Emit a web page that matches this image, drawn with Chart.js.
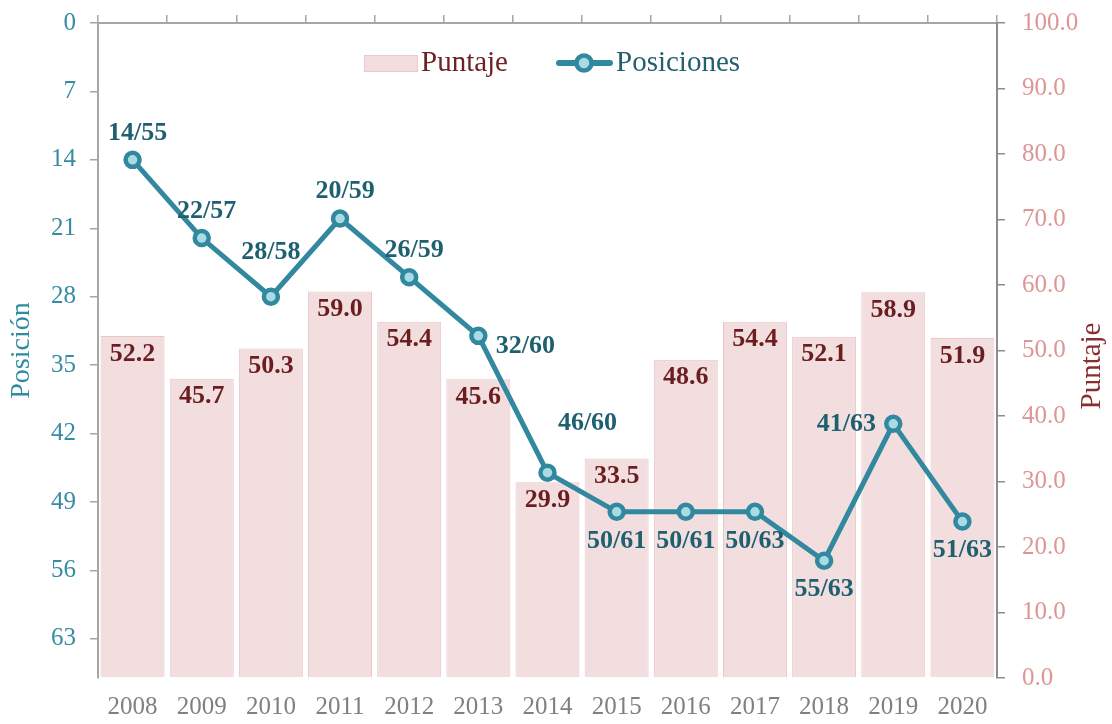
<!DOCTYPE html>
<html lang="es">

<head>
    <meta charset="UTF-8">
    <title>Posición y puntaje</title>
    <script src="https://cdn.jsdelivr.net/npm/chart.js"></script>
    <style>
        html, body {
            margin: 0;
            padding: 0;
            background: #ffffff;
        }
        .chart-container {
            width: 1112px;
            height: 724px;
        }
    </style>
</head>

<body>
    <div class="chart-container">
        <canvas id="rankChart" width="1112" height="724"></canvas>
    </div>

    <script>
        const years = ['2008', '2009', '2010', '2011', '2012', '2013', '2014', '2015', '2016', '2017', '2018', '2019', '2020'];
        const puntaje = [52.2, 45.7, 50.3, 59.0, 54.4, 45.6, 29.9, 33.5, 48.6, 54.4, 52.1, 58.9, 51.9];
        const posicion = [14, 22, 28, 20, 26, 32, 46, 50, 50, 50, 55, 41, 51];
        const totalPaises = [55, 57, 58, 59, 59, 60, 60, 61, 61, 63, 63, 63, 63];
        const posTicks = [0, 7, 14, 21, 28, 35, 42, 49, 56, 63];
        const puntajeTicks = [0, 10, 20, 30, 40, 50, 60, 70, 80, 90, 100];

        // which side of the point each "pos/total" label sits on
        const posLabelSide = ['top', 'top', 'topHigh', 'top', 'top', 'right', 'topRight', 'bottom', 'bottom', 'bottom', 'bottom', 'left', 'bottom'];

        const SERIF = '"Liberation Serif", "Times New Roman", serif';
        const TEAL = '#31889f';
        const AXIS_GREY = '#a6a6a6';

        // stop the axes from reserving room for half-labels above/below the plot
        function noEdgePadding(s) {
            s.paddingTop = 0;
            s.paddingBottom = 0;
        }

        const labelPlugin = {
            id: 'valueLabels',
            afterDatasetsDraw(chart) {
                const ctx = chart.ctx;
                ctx.save();
                ctx.font = 'bold 26px ' + SERIF;
                ctx.textAlign = 'center';
                ctx.textBaseline = 'middle';

                // score inside the top of each bar
                ctx.fillStyle = '#6b1d20';
                chart.getDatasetMeta(0).data.forEach((bar, i) => {
                    ctx.fillText(puntaje[i].toFixed(1), bar.x, bar.y + 18);
                });

                // rank labels around the line points
                ctx.fillStyle = '#1f6070';
                chart.getDatasetMeta(1).data.forEach((pt, i) => {
                    let x = pt.x, y = pt.y;
                    const side = posLabelSide[i];
                    if (side === 'top') { y -= 27; x += 5; }
                    else if (side === 'topHigh') { y -= 44; }
                    else if (side === 'topRight') { y -= 49; x += 40; }
                    else if (side === 'bottom') { y += 29; }
                    else if (side === 'right') { x += 47; y += 10; }
                    else if (side === 'left') { x -= 47; }
                    ctx.fillText(posicion[i] + '/' + totalPaises[i], x, y);
                });
                ctx.restore();
            },
            afterDraw(chart) {
                const ctx = chart.ctx;
                ctx.save();

                // legend sits inside the plot, top centre
                ctx.textBaseline = 'middle';
                ctx.textAlign = 'left';
                ctx.font = '29px ' + SERIF;
                ctx.fillStyle = '#f2dede';
                ctx.strokeStyle = '#ebcaca';
                ctx.lineWidth = 1;
                ctx.fillRect(364, 55, 53, 16);
                ctx.strokeRect(364.5, 55.5, 53, 16);
                ctx.fillStyle = '#6d2326';
                ctx.fillText('Puntaje', 421, 63);

                ctx.strokeStyle = TEAL;
                ctx.lineWidth = 6;
                ctx.lineCap = 'round';
                ctx.beginPath();
                ctx.moveTo(559, 63);
                ctx.lineTo(610, 63);
                ctx.stroke();
                ctx.beginPath();
                ctx.arc(584, 63, 7.5, 0, Math.PI * 2);
                ctx.fillStyle = '#a9dbe5';
                ctx.fill();
                ctx.lineWidth = 4.5;
                ctx.stroke();
                ctx.fillStyle = '#23606f';
                ctx.fillText('Posiciones', 616, 63);

                // right axis title, reading bottom to top
                ctx.translate(1092, 366);
                ctx.rotate(-Math.PI / 2);
                ctx.textAlign = 'center';
                ctx.font = '29px ' + SERIF;
                ctx.fillStyle = '#8b2e30';
                ctx.fillText('Puntaje', 0, 0);
                ctx.restore();
            }
        };

        const config = {
            data: {
                labels: years,
                datasets: [
                    {
                        type: 'bar',
                        label: 'Puntaje',
                        data: puntaje,
                        yAxisID: 'y2',
                        backgroundColor: '#f2dede',
                        borderColor: '#e9c6c6',
                        borderWidth: 1,
                        barPercentage: 0.925,
                        categoryPercentage: 1,
                        order: 2
                    },
                    {
                        type: 'line',
                        label: 'Posiciones',
                        data: posicion,
                        yAxisID: 'y',
                        borderColor: TEAL,
                        borderWidth: 5,
                        pointRadius: 7,
                        pointBorderWidth: 4.5,
                        pointBackgroundColor: '#a9dbe5',
                        pointBorderColor: TEAL,
                        tension: 0,
                        order: 1
                    }
                ]
            },
            options: {
                responsive: false,
                animation: false,
                layout: { padding: 0 },
                plugins: {
                    legend: { display: false },
                    tooltip: { enabled: false }
                },
                scales: {
                    x: {
                        position: 'bottom',
                        grid: { display: false, drawTicks: false },
                        border: { display: false },
                        ticks: {
                            color: '#808080',
                            font: { family: SERIF, size: 25 },
                            padding: 14
                        },
                        afterFit: s => { s.height = 46; }
                    },
                    xTop: {
                        type: 'category',
                        position: 'top',
                        offset: true,
                        grid: {
                            display: true,
                            offset: true,
                            drawOnChartArea: false,
                            tickLength: 8,
                            color: AXIS_GREY,
                            lineWidth: 1.5
                        },
                        border: { color: AXIS_GREY, width: 2 },
                        ticks: { display: false },
                        afterFit: s => { s.height = 23; }
                    },
                    y: {
                        position: 'left',
                        reverse: true,
                        min: 0,
                        max: 67,
                        afterBuildTicks: s => { s.ticks = posTicks.map(v => ({ value: v })); },
                        ticks: {
                            color: '#368ca3',
                            font: { family: SERIF, size: 25 },
                            padding: 14
                        },
                        grid: {
                            drawOnChartArea: false,
                            tickLength: 8,
                            color: AXIS_GREY,
                            lineWidth: 1.5
                        },
                        border: { color: AXIS_GREY, width: 2 },
                        title: {
                            display: true,
                            text: 'Posición',
                            color: '#2f8ba0',
                            font: { family: SERIF, size: 28 },
                            padding: { top: 5, bottom: 0 }
                        },
                        afterFit: s => { s.width = 98; noEdgePadding(s); }
                    },
                    y2: {
                        position: 'right',
                        min: 0,
                        max: 100,
                        afterBuildTicks: s => { s.ticks = puntajeTicks.map(v => ({ value: v })); },
                        ticks: {
                            color: '#dc9694',
                            font: { family: SERIF, size: 25 },
                            padding: 17,
                            callback: v => Number(v).toFixed(1)
                        },
                        grid: {
                            drawOnChartArea: false,
                            tickLength: 8,
                            color: '#8c8c8c',
                            lineWidth: 1.5
                        },
                        border: { color: '#8c8c8c', width: 2 },
                        afterFit: s => { s.width = 115; noEdgePadding(s); }
                    }
                }
            },
            plugins: [labelPlugin]
        };

        const ctx = document.getElementById('rankChart').getContext('2d');
        new Chart(ctx, config);
    </script>
</body>

</html>
